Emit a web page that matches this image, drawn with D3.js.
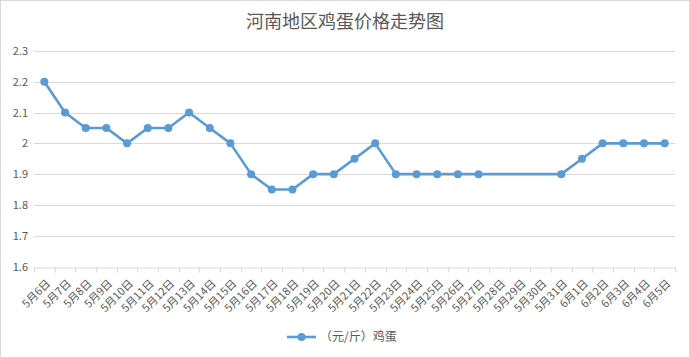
<!DOCTYPE html>
<html><head><meta charset="utf-8">
<script src="https://cdn.jsdelivr.net/npm/d3@7"></script>
<style>body{margin:0;background:#fff}svg{display:block}text{font-family:"Microsoft YaHei","Noto Sans CJK SC",sans-serif}</style>
</head><body>
<script>
const categories = ["5月6日","5月7日","5月8日","5月9日","5月10日","5月11日","5月12日","5月13日","5月14日","5月15日","5月16日","5月17日","5月18日","5月19日","5月20日","5月21日","5月22日","5月23日","5月24日","5月25日","5月26日","5月27日","5月28日","5月29日","5月30日","5月31日","6月1日","6月2日","6月3日","6月4日","6月5日"];
const eggPrice = [2.2,2.1,2.05,2.05,2.0,2.05,2.05,2.1,2.05,2.0,1.9,1.85,1.85,1.9,1.9,1.95,2.0,1.9,1.9,1.9,1.9,1.9,null,null,null,1.9,1.95,2.0,2.0,2.0,2.0];
const yTicks = [1.6,1.7,1.8,1.9,2.0,2.1,2.2,2.3];
const seriesName = "（元/斤）鸡蛋";
const title = "河南地区鸡蛋价格走势图";

const W=690,H=358, color="#5B9BD5", txt="#595959";
const svg=d3.select("body").append("svg").attr("width",W).attr("height",H);
svg.append("rect").attr("x",0.5).attr("y",0.5).attr("width",W-1).attr("height",H-1).attr("fill","#fff").attr("stroke","#d9d9d9");
const L=34,R=675,T=51,B=266.5;
const x=d3.scaleBand().domain(categories).range([L,R]);
const y=d3.scaleLinear().domain([1.6,2.3]).range([B,T]);

svg.append("text").attr("x",345).attr("y",28).attr("text-anchor","middle").attr("font-size",18).attr("fill",txt).text(title);

// grid
svg.append("g").selectAll("line").data(yTicks.slice(1)).join("line")
 .attr("x1",L).attr("x2",R).attr("y1",d=>Math.round(y(d))+0.5).attr("y2",d=>Math.round(y(d))+0.5)
 .attr("stroke","#d9d9d9").attr("stroke-width",1);
// y labels
svg.append("g").selectAll("text").data(yTicks).join("text")
 .attr("x",28).attr("y",d=>y(d)+4).attr("text-anchor","end").attr("font-size",11).attr("fill",txt)
 .text(d=>d3.format("~g")(d));
// x axis
const xa=svg.append("g").attr("transform",`translate(0,${Math.round(B)+0.5})`)
 .call(d3.axisBottom(x).tickSizeOuter(0).tickSizeInner(0));
xa.select(".domain").attr("stroke","#d9d9d9");
xa.selectAll(".tick text").remove();
const bounds=categories.map(c=>x(c)).concat([R]);
xa.selectAll("line.b").data(bounds).join("line").attr("class","b")
 .attr("x1",d=>Math.round(d)+0.5).attr("x2",d=>Math.round(d)+0.5).attr("y1",0).attr("y2",5).attr("stroke","#d9d9d9");
svg.append("g").selectAll("text").data(categories).join("text")
 .attr("transform",d=>`translate(${x(d)+x.bandwidth()/2+4},${B+15}) rotate(-45)`)
 .attr("text-anchor","end").attr("font-size",11).attr("fill",txt).attr("dy","0.35em").text(d=>d);

// line
const pts=categories.map((c,i)=>({c,v:eggPrice[i]})).filter(d=>d.v!=null);
const line=d3.line().x(d=>x(d.c)+x.bandwidth()/2).y(d=>y(d.v));
svg.append("path").datum(pts).attr("d",line).attr("fill","none").attr("stroke",color).attr("stroke-width",2.6).attr("stroke-linejoin","round");
svg.append("g").selectAll("circle").data(pts).join("circle")
 .attr("cx",d=>x(d.c)+x.bandwidth()/2).attr("cy",d=>y(d.v)).attr("r",4).attr("fill",color);

// legend
const lg=svg.append("g");
lg.append("line").attr("x1",287).attr("x2",316).attr("y1",337).attr("y2",337).attr("stroke",color).attr("stroke-width",2.6);
lg.append("circle").attr("cx",301.5).attr("cy",337).attr("r",4).attr("fill",color);
lg.append("text").attr("x",320).attr("y",341).attr("font-size",12).attr("fill",txt).text(seriesName);
</script>
</body></html>
